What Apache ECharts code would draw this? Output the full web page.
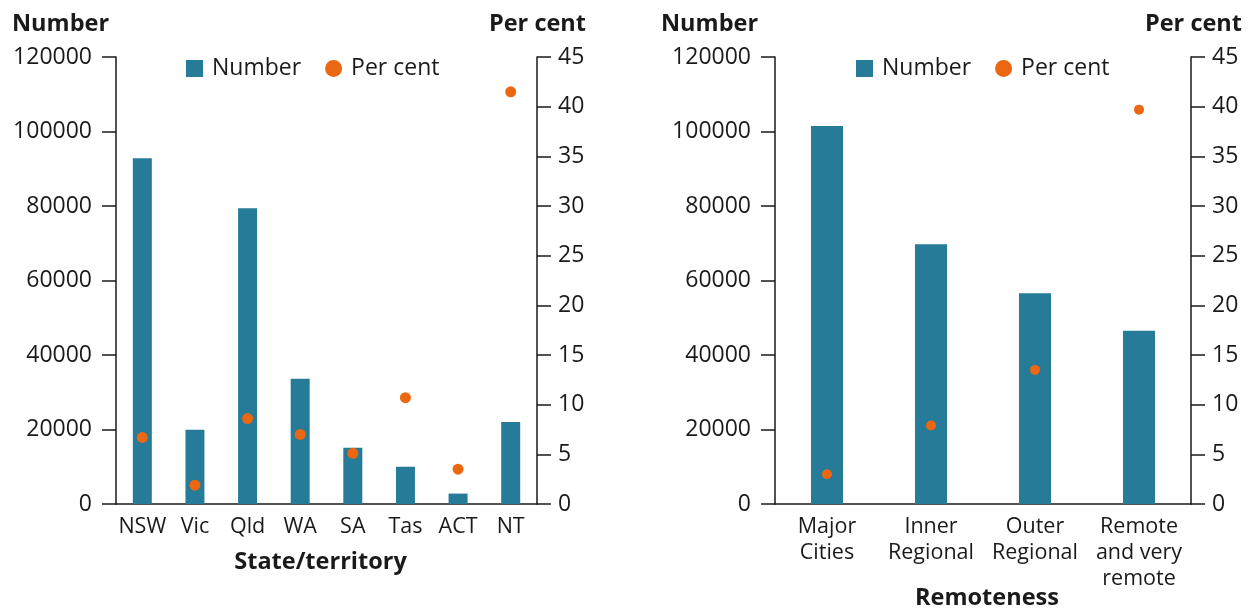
<!DOCTYPE html>
<html>
<head>
<meta charset="utf-8"/>
<title>Number and per cent by state and remoteness</title>
<script src="https://cdn.jsdelivr.net/npm/echarts@6/dist/echarts.min.js"></script>
<style>
  html, body { margin: 0; padding: 0; background: #fff; }
  #main { width: 1253px; height: 610px; }
</style>
</head>
<body>
<div id="main"></div>
<script type="text/javascript">
// data
var states = ['NSW', 'Vic', 'Qld', 'WA', 'SA', 'Tas', 'ACT', 'NT'];
var stateNumber = [92800, 19900, 79400, 33600, 15100, 10000, 2800, 22000];
var statePercent = [6.7, 1.9, 8.6, 7.0, 5.1, 10.7, 3.5, 41.5];

var remoteness = ['Major\nCities', 'Inner\nRegional', 'Outer\nRegional', 'Remote\nand very\nremote'];
var remoteNumber = [101500, 69700, 56600, 46500];
var remotePercent = [3.0, 7.9, 13.5, 39.7];

var numberAxis = { min: 0, max: 120000, interval: 20000 };
var percentAxis = { min: 0, max: 45, interval: 5 };

var FONT = '"Open Sans", "Noto Sans", sans-serif';
var BAR = '#267b98';
var DOT = '#ec6712';
var INK = '#1a1a1a';

function valueAxis(gridIndex, range, pos) {
  return {
    type: 'value',
    gridIndex: gridIndex,
    position: pos,
    min: range.min,
    max: range.max,
    interval: range.interval,
    splitLine: { show: false },
    axisLine: { show: true, lineStyle: { color: INK, width: 1.5 } },
    axisTick: { show: true, inside: false, length: 14, lineStyle: { color: INK, width: 1.5 } },
    axisLabel: {
      color: INK, fontFamily: FONT, fontSize: 23,
      margin: pos == 'left' ? 24 : 21,
      formatter: function (v) { return String(v); }
    }
  };
}

function catAxis(gridIndex, data, name, nameGap, namePad) {
  return {
    type: 'category',
    gridIndex: gridIndex,
    data: data,
    name: name,
    nameLocation: 'middle',
    nameGap: nameGap,
    nameMoveOverlap: false,
    nameTextStyle: { color: INK, fontFamily: FONT, fontSize: 23.5, fontWeight: 'bold', padding: namePad },
    axisLine: { show: true, lineStyle: { color: INK, width: 1.5 } },
    axisTick: { show: false },
    axisLabel: { color: INK, fontFamily: FONT, fontSize: 21.5, margin: 10, lineHeight: 26, interval: 0 }
  };
}

function legend(left) {
  return {
    left: left,
    top: 52,
    itemWidth: 17,
    itemHeight: 17,
    itemGap: 24,
    textStyle: { color: INK, fontFamily: FONT, fontSize: 23, padding: [0, 0, 0, 4] },
    data: [
      { name: 'Number', icon: 'rect' },
      { name: 'Per cent', icon: 'circle' }
    ]
  };
}

function titleText(text, pos) {
  var t = {
    text: text,
    top: 7,
    textStyle: { color: INK, fontFamily: FONT, fontSize: 23.5, fontWeight: 'bold' }
  };
  for (var k in pos) t[k] = pos[k];
  return t;
}

var myChart = echarts.init(document.getElementById('main'));
var option = {
  backgroundColor: '#fff',
  animation: false,
  title: [
    titleText('Number', { left: 7 }),
    titleText('Per cent', { right: 662 }),
    titleText('Number', { left: 656 }),
    titleText('Per cent', { right: 6 })
  ],
  legend: [legend(181), legend(851)],
  grid: [
    { left: 116, right: 716, top: 57, bottom: 106, containLabel: false, outerBoundsMode: 'none' },
    { left: 775, right: 62, top: 57, bottom: 106, containLabel: false, outerBoundsMode: 'none' }
  ],
  xAxis: [
    catAxis(0, states, 'State/territory', 46, [0, 12, 0, 0]),
    catAxis(1, remoteness, 'Remoteness', 82, [0, 0, 0, 8])
  ],
  yAxis: [
    valueAxis(0, numberAxis, 'left'),
    valueAxis(0, percentAxis, 'right'),
    valueAxis(1, numberAxis, 'left'),
    valueAxis(1, percentAxis, 'right')
  ],
  series: [
    {
      name: 'Number', type: 'bar', xAxisIndex: 0, yAxisIndex: 0,
      barWidth: 19, itemStyle: { color: BAR }, data: stateNumber
    },
    {
      name: 'Per cent', type: 'scatter', xAxisIndex: 0, yAxisIndex: 1,
      symbolSize: 11, itemStyle: { color: DOT, opacity: 1 }, data: statePercent, z: 3
    },
    {
      name: 'Number', type: 'bar', xAxisIndex: 1, yAxisIndex: 2,
      barWidth: 32, itemStyle: { color: BAR }, data: remoteNumber
    },
    {
      name: 'Per cent', type: 'scatter', xAxisIndex: 1, yAxisIndex: 3,
      symbolSize: 10, itemStyle: { color: DOT, opacity: 1 }, data: remotePercent, z: 3
    }
  ]
};
myChart.setOption(option);
window.onresize = function () {
  myChart.resize();
};
</script>
</body>
</html>
